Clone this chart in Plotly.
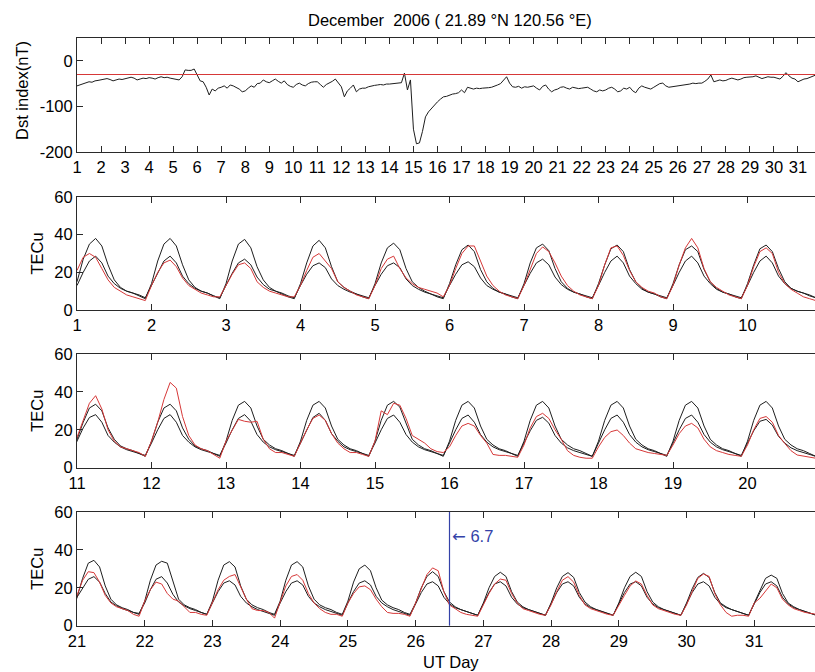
import plotly.graph_objects as go

TITLE = "December  2006 ( 21.89 °N 120.56 °E)"
X_TITLE = "UT Day"
DST_TITLE = "Dst index(nT)"
TEC_TITLE = "TECu"

DAYS = list(range(1, 32))

# Dst index, 3-hourly samples (UT 0,3,...,21) for each day of the month
DST_HOURS = [0, 3, 6, 9, 12, 15, 18, 21]
DST_NT = [
    [-55, -53, -50, -48, -46, -47, -44, -43],
    [-42, -40, -39, -41, -44, -42, -40, -41],
    [-39, -37, -36, -38, -42, -40, -38, -39],
    [-37, -38, -40, -37, -35, -37, -36, -38],
    [-39, -41, -42, -35, -20, -21, -21, -18],
    [-31, -44, -46, -58, -75, -62, -66, -60],
    [-58, -55, -60, -53, -55, -58, -62, -68],
    [-66, -60, -55, -58, -50, -49, -42, -46],
    [-48, -44, -40, -45, -49, -44, -52, -56],
    [-58, -52, -49, -53, -55, -50, -47, -46],
    [-46, -52, -58, -52, -49, -45, -40, -48],
    [-57, -79, -66, -60, -53, -68, -62, -60],
    [-60, -57, -55, -54, -53, -52, -53, -51],
    [-51, -50, -49, -48, -48, -27, -64, -42],
    [-150, -182, -180, -155, -123, -112, -104, -97],
    [-90, -84, -79, -78, -75, -73, -72, -70],
    [-64, -70, -58, -60, -62, -60, -61, -60],
    [-60, -59, -58, -56, -53, -50, -42, -35],
    [-49, -57, -58, -56, -60, -57, -58, -56],
    [-55, -60, -64, -56, -53, -62, -68, -64],
    [-62, -58, -57, -60, -62, -58, -60, -61],
    [-60, -59, -58, -62, -66, -68, -64, -66],
    [-64, -60, -58, -62, -68, -66, -60, -62],
    [-58, -66, -70, -60, -55, -58, -60, -62],
    [-58, -54, -50, -49, -55, -58, -57, -56],
    [-55, -54, -53, -53, -51, -49, -50, -49],
    [-49, -45, -40, -31, -46, -44, -42, -44],
    [-43, -40, -38, -40, -42, -40, -37, -36],
    [-36, -35, -33, -36, -39, -37, -35, -36],
    [-36, -38, -40, -34, -26, -33, -38, -40],
    [-46, -43, -40, -39, -36, -33, -31, -35],
]
DST_QUIET_LEVEL = -30

# TEC, 2-hourly samples (UT 0,2,...,22) for each day
TEC_HOURS = [0, 2, 4, 6, 8, 10, 12, 14, 16, 18, 20, 22]
TEC_UPPER = [
    [15, 27, 35, 38, 34, 24, 16, 12, 10, 9, 7.5, 6],
    [14, 26, 35, 38, 34, 24, 16, 12, 10, 9, 7.5, 6],
    [14, 26, 35, 37.5, 33, 23, 16, 12, 10, 8.5, 7, 6],
    [14, 25, 34, 37, 33, 23, 15, 12, 10, 8.5, 7, 6],
    [14, 25, 33, 35.5, 32, 22, 15, 12, 10, 8.5, 7, 6],
    [14, 24, 32, 34.5, 31, 21.5, 15, 11.5, 9.5, 8.5, 7, 6],
    [14, 25, 33, 35, 31.5, 22, 15, 11.5, 9.5, 8.5, 7, 6],
    [14, 24, 32.5, 34.5, 31, 21.5, 15, 11.5, 9.5, 8.5, 7, 6],
    [14, 24, 32, 34, 31, 21.5, 15, 11.5, 9.5, 8.5, 7, 6],
    [14, 24, 32.5, 34.5, 31, 22, 15, 11.5, 10, 9, 7.5, 6.5],
    [15, 24, 31.5, 33.5, 30, 21, 15, 11.5, 10, 9, 7.5, 6],
    [14, 24, 31.5, 33.5, 30, 21, 15, 11.5, 10, 9, 7.5, 6],
    [14, 25, 33, 35, 31.5, 22, 15, 12, 10, 9, 7.5, 6],
    [14, 25, 33, 35, 31.5, 22, 15, 12, 10, 9, 7.5, 6],
    [14, 25, 33, 35, 32, 23, 15, 12, 10, 9, 7.5, 6],
    [14, 25, 33, 35, 31.5, 22, 15, 12, 10, 9, 7.5, 6],
    [14, 25, 33, 35, 31.5, 22, 15, 12, 10, 9, 7.5, 6],
    [14, 25, 33, 35, 31.5, 22, 15, 12, 10, 9, 7.5, 6],
    [14, 25, 33, 35, 31.5, 22, 15, 12, 10, 9, 7.5, 6],
    [14, 25, 33, 35, 31.5, 22, 15, 12, 10, 9, 7.5, 6],
    [15, 25, 33, 34.5, 31, 21, 14, 11, 9.5, 8.5, 7, 6],
    [13, 24, 32, 34, 33, 23, 14, 11, 9.5, 8.5, 7, 6],
    [13, 24, 32, 33.8, 31, 21, 14, 11, 9.5, 8.5, 7, 6],
    [13, 24, 32, 33.8, 31, 21, 14, 11, 9.5, 8.5, 7, 6],
    [13, 23, 30, 32, 29, 20, 13.5, 11, 9.5, 8.5, 7, 6],
    [12, 20, 26, 28.5, 26, 18, 12.5, 10, 8.5, 7.5, 6.5, 5.5],
    [12, 20, 26, 28.2, 26, 18, 12.5, 10, 8.5, 7.5, 6.5, 5.5],
    [12, 20, 26, 28, 25.5, 17.5, 12.5, 10, 8.5, 7.5, 6.5, 5.5],
    [12, 20, 26, 28.2, 26, 18, 12.5, 10, 8.5, 7.5, 6.5, 5.5],
    [12, 19.5, 25.5, 27.6, 25.5, 17.5, 12, 10, 8.5, 7.5, 6.5, 5.5],
    [12, 19, 25, 26.7, 25, 17, 12, 10, 8.5, 7.5, 6.5, 5.5],
]
TEC_LOWER = [
    [13, 20, 26, 28.6, 25, 18, 14, 11.5, 10, 9, 8, 6.5],
    [13, 20, 26, 28.6, 25, 18, 14, 11.5, 10, 9, 7.5, 6.5],
    [13, 19.5, 25, 27, 24, 17.5, 13.5, 11, 10, 9, 7.5, 6.5],
    [13, 19, 23.5, 25, 22.5, 16.5, 13, 11, 9.5, 8.5, 7.5, 6.5],
    [13, 19, 23.5, 25, 22.5, 16.5, 13, 11, 9.5, 8.5, 7.5, 6.5],
    [13, 19, 24, 25.6, 23, 17, 13, 11, 9.5, 8.5, 7.5, 6.5],
    [13, 19.5, 25, 27, 24, 17.5, 13.5, 11, 9.5, 8.5, 7.5, 6.5],
    [13, 20, 26, 28.6, 25, 18, 14, 11, 9.5, 8.5, 7.5, 6.5],
    [13, 20, 26, 28.6, 25, 18, 14, 11, 9.5, 8.5, 7.5, 6.5],
    [13, 20, 26, 28.6, 25, 18, 14, 11.5, 10, 9, 8, 6.5],
    [14, 21, 26.5, 28, 24, 17, 13.5, 11, 9.5, 8.5, 7.5, 6.5],
    [13, 20, 26, 28, 24, 17, 13.5, 11, 9.5, 8.5, 7.5, 6.5],
    [13, 20, 26, 28, 24.5, 17.5, 13.5, 11, 9.5, 8.5, 7.5, 6.5],
    [13, 20, 26.5, 28.7, 25, 18, 14, 11, 9.5, 8.5, 7.5, 6.5],
    [13, 20, 26, 27.8, 24, 17.5, 13.5, 11, 9.5, 8.5, 7.5, 6.5],
    [13, 20, 26, 27.8, 24, 17.5, 13.5, 11, 9.5, 8.5, 7.5, 6.5],
    [13, 19.5, 25, 26.6, 23.5, 17, 13, 10.5, 9, 8, 7, 6],
    [13, 20, 26, 27.8, 24, 17.5, 13.5, 11, 9.5, 8.5, 7.5, 6.5],
    [13, 20, 26, 27.8, 24, 17.5, 13.5, 11, 9.5, 8.5, 7.5, 6.5],
    [13, 19.5, 24.5, 25.5, 22.5, 16.5, 13, 10.5, 9, 8, 7, 6],
    [15, 20, 24.5, 25.9, 23, 17, 12.5, 10.5, 9, 8, 7, 6.5],
    [12, 19, 24.5, 25.9, 22.5, 16.5, 12.5, 10.5, 9, 8, 7, 6],
    [12, 18, 22.5, 23.7, 21.5, 15.5, 12, 10, 8.5, 7.5, 6.5, 5.5],
    [12, 18, 22.5, 23.7, 21.5, 15.5, 12, 10, 8.5, 7.5, 6.5, 5.5],
    [12, 18, 22.5, 23.7, 21.5, 15.5, 12, 10, 8.5, 7.5, 6.5, 5.5],
    [11.5, 17.5, 22, 23.2, 21, 15, 11.5, 9.5, 8.5, 7.5, 6.5, 5.5],
    [11.5, 17.5, 22, 23.2, 21, 15, 11.5, 9.5, 8.5, 7.5, 6.5, 5.5],
    [11.5, 17.5, 22, 23.2, 21, 15, 11.5, 9.5, 8.5, 7.5, 6.5, 5.5],
    [11.5, 17.5, 22, 23.2, 21, 15, 11.5, 9.5, 8.5, 7.5, 6.5, 5.5],
    [11.5, 17.5, 22, 23.2, 21, 15, 11.5, 9.5, 8.5, 7.5, 6.5, 5.5],
    [11.5, 17.5, 22, 23.2, 21, 15, 11.5, 9.5, 8.5, 7.5, 6.5, 5.5],
]
TEC_OBS = [
    [21, 28, 30, 28, 22, 16, 12, 10, 8, 7, 6, 5],
    [13, 20, 25, 26.5, 23, 17, 13, 11, 9, 8, 7, 7],
    [13, 19, 24, 25, 22, 15, 12, 10, 9, 8, 7, 7],
    [13, 21, 28, 30, 26, 22, 15, 12, 10, 8, 7, 6],
    [13, 22, 27, 28.6, 22, 17, 14, 12, 11, 10, 9, 7],
    [13, 22, 30, 34, 34, 26, 18, 13, 10, 8, 7, 6],
    [13, 22, 30, 33.5, 31, 25, 18, 13, 10, 8, 7, 6],
    [13, 24, 33, 34, 29, 21, 15, 12, 10, 9, 7, 6],
    [13, 24, 33, 38, 33, 22, 15, 12, 10, 8, 7, 6],
    [13, 23, 31, 33, 30, 20, 14, 11, 9, 7, 6, 5],
    [16, 25, 34, 38, 31, 20, 14, 11, 10, 9, 8, 6],
    [14, 24, 36, 45, 42, 27, 17, 12, 10, 9, 7, 5],
    [14, 20, 25.5, 24.5, 24, 24.5, 15, 10, 8, 8, 7, 6],
    [13, 20, 26, 27.8, 25, 18, 13, 10, 8, 8, 7, 6],
    [14, 30, 28, 34, 33, 26, 17, 15, 13, 10, 8.5, 8],
    [11, 17, 22, 23.4, 22, 17, 13, 7, 6.5, 6.5, 6, 5.5],
    [12, 21, 27, 28.7, 26, 20, 15, 9, 6.5, 5.5, 5, 5],
    [11, 16, 19, 19.9, 17, 13, 10, 9, 8, 7.5, 7, 6.5],
    [12, 18, 22, 23.4, 21, 15, 11, 9, 8, 7, 6.5, 6],
    [12, 20, 26, 27, 24, 17, 12.8, 9, 6.7, 6, 5.5, 5],
    [16, 24, 28.5, 28, 23, 16, 12, 10, 9, 8, 6, 5],
    [13, 19, 23, 22, 17, 14, 13, 10, 7, 7, 6, 5.5],
    [12, 19, 24, 26, 27, 20, 14, 9, 8, 8, 7, 4],
    [13, 21, 26, 27, 24, 17, 12, 9, 7, 6, 6, 5],
    [12, 17, 20.5, 21, 19, 14, 10, 7, 6.5, 6.5, 6, 5],
    [12, 20, 27, 30.5, 29, 18, 10.9, 9, 7, 6, 5.5, 5],
    [11, 17, 22, 24.6, 24, 17, 12, 9, 8, 7, 6, 5.5],
    [11, 18, 24, 25.9, 23, 16, 11, 9, 8, 7, 6, 5.5],
    [11, 16, 21, 23.6, 22, 16, 11, 9, 8, 7, 6, 5.5],
    [11, 18, 25, 27.3, 26, 17, 11, 7, 5, 5.5, 5.5, 5],
    [12, 14.5, 18, 22, 20, 14, 11, 9, 8, 7, 6.5, 6],
]

EVENT_DAY = 26.5
EVENT_VALUE = "6.7"
EVENT_LABEL_Y = 47

DST_RANGE = (1, 32)
TEC_PANEL_RANGES = [(1, 11), (11, 21), (21, 32)]
DST_Y_RANGE = (-200, 50)
DST_YTICKS = [-200, -100, 0]
TEC_Y_RANGE = (0, 60)
TEC_YTICKS = [0, 20, 40, 60]

# ---------------------------------------------------------------------------
W, H = 815, 672
FONT = "Liberation Sans, Arial, Helvetica, sans-serif"
FS = 16.5
AX = "#2a2a2a"
RED = "#d63838"
BLUE = "#3442a8"
BLACK = "#1e1e1e"

LEFT_PX = 77
FULL_RIGHT_PX = 822  # original axes extend slightly beyond the crop
VIS = (W - LEFT_PX) / (FULL_RIGHT_PX - LEFT_PX)


def vis_range(a, b):
    return [a, a + (b - a) * VIS]


def series_xy(rows, hours):
    xs, ys = [], []
    for d, row in zip(DAYS, rows):
        for h, v in zip(hours, row):
            xs.append(d + h / 24.0)
            ys.append(v)
    return xs, ys


panels_px = [(38, 152), (197, 310), (354, 467.7), (512, 625.7)]


def ydom(top, bot):
    return [1 - bot / H, 1 - top / H]


fig = go.Figure()

# Dst panel
dx, dy = series_xy(DST_NT, DST_HOURS)
fig.add_trace(go.Scatter(x=dx, y=dy, mode="lines", line=dict(color=BLACK, width=1),
                         xaxis="x", yaxis="y", showlegend=False, hoverinfo="skip"))

tec_series = [(TEC_UPPER, BLACK), (TEC_LOWER, BLACK), (TEC_OBS, RED)]
for i in range(3):
    xa = "x%d" % (i + 2)
    ya = "y%d" % (i + 2)
    for rows, col in tec_series:
        sx, sy = series_xy(rows, TEC_HOURS)
        fig.add_trace(go.Scatter(x=sx, y=sy, mode="lines", line=dict(color=col, width=1),
                                 xaxis=xa, yaxis=ya, showlegend=False, hoverinfo="skip",
                                 cliponaxis=True))

xdom = [LEFT_PX / W, 1.0]
tickfont = dict(family=FONT, size=FS, color="black")

common_x = dict(domain=xdom, showline=True, linecolor=AX, linewidth=1, mirror="ticks",
                ticks="inside", ticklen=6, tickcolor=AX, tickwidth=1, showgrid=False,
                zeroline=False, tickfont=tickfont, dtick=1, tickmode="linear",
                automargin=False)
common_y = dict(showline=True, linecolor=AX, linewidth=1, mirror=False,
                ticks="inside", ticklen=6, tickcolor=AX, tickwidth=1, showgrid=False,
                zeroline=False, tickfont=tickfont, tickmode="array", automargin=False)

layout = dict(
    width=W, height=H, margin=dict(l=0, r=0, t=0, b=0, pad=0, autoexpand=False),
    paper_bgcolor="white", plot_bgcolor="white", showlegend=False,
    font=dict(family=FONT, size=FS, color="black"),
)
layout["xaxis"] = dict(common_x, anchor="y", range=vis_range(*DST_RANGE), tick0=DST_RANGE[0])
layout["yaxis"] = dict(common_y, anchor="x", domain=ydom(*panels_px[0]),
                       range=list(DST_Y_RANGE), tickvals=DST_YTICKS,
                       ticktext=[str(v) for v in DST_YTICKS])
for i, (a, b) in enumerate(TEC_PANEL_RANGES):
    n = i + 2
    layout["xaxis%d" % n] = dict(common_x, anchor="y%d" % n, range=vis_range(a, b), tick0=a)
    layout["yaxis%d" % n] = dict(common_y, anchor="x%d" % n, domain=ydom(*panels_px[n - 1]),
                                 range=list(TEC_Y_RANGE), tickvals=TEC_YTICKS,
                                 ticktext=[str(v) for v in TEC_YTICKS])
fig.update_layout(**layout)

# quiet-level line on Dst panel
fig.add_shape(type="line", xref="x domain", yref="y", x0=0, x1=1,
              y0=DST_QUIET_LEVEL, y1=DST_QUIET_LEVEL, line=dict(color=RED, width=1.2))
# event marker on last panel
fig.add_shape(type="line", xref="x4", yref="y4 domain", x0=EVENT_DAY, x1=EVENT_DAY,
              y0=0, y1=1, line=dict(color=BLUE, width=1.2))
fig.add_annotation(x=EVENT_DAY, y=EVENT_LABEL_Y, xref="x4", yref="y4",
                   text="<span style='font-family:DejaVu Sans'>←</span> " + EVENT_VALUE,
                   showarrow=False, xanchor="left", yanchor="middle", xshift=0,
                   font=dict(family=FONT, size=FS, color=BLUE))

# texts
fig.add_annotation(x=450 / W, y=1 - 20 / H, xref="paper", yref="paper", text=TITLE,
                   showarrow=False, xanchor="center", yanchor="middle",
                   font=dict(family=FONT, size=FS, color="black"))
fig.add_annotation(x=451 / W, y=1 - 662 / H, xref="paper", yref="paper", text=X_TITLE,
                   showarrow=False, xanchor="center", yanchor="middle",
                   font=dict(family=FONT, size=FS, color="black"))
fig.add_annotation(x=22 / W, y=1 - 91 / H, xref="paper", yref="paper", text=DST_TITLE,
                   showarrow=False, textangle=-90, xanchor="center", yanchor="middle",
                   font=dict(family=FONT, size=FS, color="black"))
for (top, bot) in panels_px[1:]:
    fig.add_annotation(x=37 / W, y=1 - ((top + bot) / 2) / H, xref="paper", yref="paper",
                       text=TEC_TITLE, showarrow=False, textangle=-90,
                       xanchor="center", yanchor="middle",
                       font=dict(family=FONT, size=FS, color="black"))

fig.write_html("out.html", config={"displayModeBar": False},
               post_script="document.body.style.margin='0px';"
                           "document.body.style.overflow='hidden';")
